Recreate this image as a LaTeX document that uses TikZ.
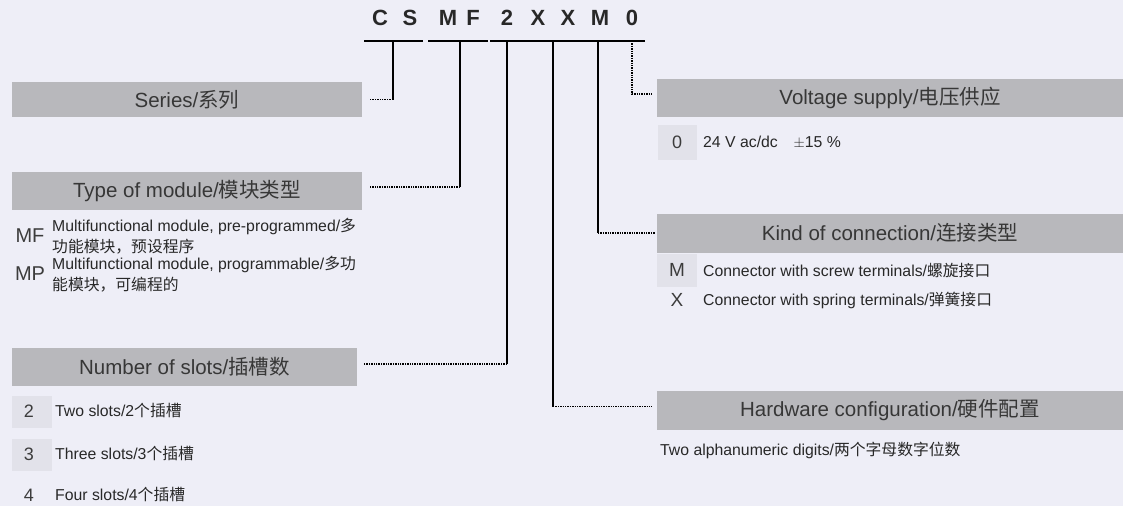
\documentclass[tikz,border=0pt]{standalone}
\usepackage{fontspec}
\setmainfont{Liberation Sans}
\newfontfamily\cjk{Noto Sans CJK SC}
\newcommand\zh[1]{{\cjk #1}}
\definecolor{bg}{RGB}{238,238,247}
\definecolor{boxgray}{RGB}{184,184,188}
\definecolor{patch}{RGB}{226,226,234}
\definecolor{titletxt}{RGB}{55,55,55}
\definecolor{itemtxt}{RGB}{40,40,40}
\definecolor{keytxt}{RGB}{60,60,60}
\definecolor{codetxt}{RGB}{40,40,40}
\tikzset{
  titlebox/.style={fill=boxgray, inner sep=0pt, text=titletxt, font=\fontsize{20.5}{24}\selectfont},
  codeletter/.style={inner sep=0pt, text=codetxt, font=\fontsize{22}{24}\selectfont\bfseries},
  keyletter/.style={inner sep=0pt, text=keytxt, font=\fontsize{18}{20}\selectfont},
  itemtext/.style={inner sep=0pt, anchor=west, text=itemtxt, align=left, font=\fontsize{15.8}{21}\selectfont},
  vline/.style={line width=1.3pt, black},
  hdot/.style={line width=1.4pt, black, densely dotted},
  uline/.style={line width=1.4pt, black},
  keypatch/.style={fill=patch, draw=none}
}
\begin{document}
\begin{tikzpicture}[x=1pt,y=-1pt]
\path[use as bounding box, fill=bg] (0,0) rectangle (1123,506);

% code letters
\node[codeletter] (k1) at (380,18) {C};
\node[codeletter] (k2) at (410,18) {S};
\node[codeletter] (k3) at (448,18) {M};
\node[codeletter] (k4) at (473,18) {F};
\node[codeletter] (k5) at (507,18) {2};
\node[codeletter] (k6) at (538,18) {X};
\node[codeletter] (k7) at (568,18) {X};
\node[codeletter] (k8) at (600,18) {M};
\node[codeletter] (k9) at (632,18) {0};
\draw[uline] (364,41) -- (423,41);
\draw[uline] (428,41) -- (488,41);
\draw[uline] (490,41) -- (645,41);

% title boxes
\node[titlebox, minimum width=350pt, minimum height=35pt] (series) at (187,99.5) {Series/\zh{系列}};
\node[titlebox, minimum width=350pt, minimum height=38pt] (type) at (187,191) {Type of module/\zh{模块类型}};
\node[titlebox, minimum width=345pt, minimum height=38pt] (slots) at (184.5,367) {Number of slots/\zh{插槽数}};
\node[titlebox, minimum width=466pt, minimum height=38pt] (volt) at (890,98) {Voltage supply/\zh{电压供应}};
\node[titlebox, minimum width=466pt, minimum height=39pt] (kind) at (890,233) {Kind of connection/\zh{连接类型}};
\node[titlebox, minimum width=466pt, minimum height=39pt] (hw) at (890,410.5) {Hardware configuration/\zh{硬件配置}};

% connector start points
\coordinate (c1) at (393,41);
\coordinate (c2) at (460,41);
\coordinate (c3) at (507,41);
\coordinate (c4) at (553,41);
\coordinate (c5) at (598,41);
\coordinate (c6) at (632,41);
% connector end points near boxes
\coordinate (e1) at ([xshift=8pt]series.east);
\coordinate (e2) at ([xshift=8pt,yshift=4pt]type.east);
\coordinate (e3) at ([xshift=7pt,yshift=3pt]slots.east);
\coordinate (e4) at ([xshift=-5pt,yshift=4pt]hw.west);
\coordinate (e5) at ([xshift=-2pt]kind.west);
\coordinate (e6) at ([xshift=-4pt,yshift=4pt]volt.west);

\draw[vline] (c1) -- (c1 |- e1); \draw[hdot] (c1 |- e1) -- (e1);
\draw[vline] (c2) -- (c2 |- e2); \draw[hdot] (c2 |- e2) -- (e2);
\draw[vline] (c3) -- (c3 |- e3); \draw[hdot] (c3 |- e3) -- (e3);
\draw[vline] (c4) -- (c4 |- e4); \draw[hdot] (c4 |- e4) -- (e4);
\draw[vline] (c5) -- (c5 |- e5); \draw[hdot] (c5 |- e5) -- (e5);
\draw[hdot, line width=1.1pt] (c6) -- (c6 |- e6) -- (e6);

% type of module items
\node[keyletter, font=\fontsize{20}{22}\selectfont] (mf) at (30,236) {MF};
\node[itemtext] (mft) at (52,236) {Multifunctional module, pre-programmed/\zh{多}\\\zh{功能模块，预设程序}};
\node[keyletter, font=\fontsize{20}{22}\selectfont] (mp) at (30,274) {MP};
\node[itemtext] (mpt) at (52,274) {Multifunctional module, programmable/\zh{多功}\\\zh{能模块，可编程的}};

% number of slots items
\path[keypatch] (12,396) rectangle (52,428);
\path[keypatch] (12,439) rectangle (52,471);
\node[keyletter] (n2) at (29,411) {2};
\node[itemtext] (n2t) at (55,411) {Two slots/2\zh{个插槽}};
\node[keyletter] (n3) at (29,454) {3};
\node[itemtext] (n3t) at (55,454) {Three slots/3\zh{个插槽}};
\node[keyletter] (n4) at (29,495) {4};
\node[itemtext] (n4t) at (55,495) {Four slots/4\zh{个插槽}};

% voltage items
\path[keypatch] (658,125) rectangle (697,160);
\node[keyletter] (v0) at (677,142) {0};
\node[itemtext] (v0t) at (703,142) {24 V ac/dc\quad$\pm$15 \%};

% kind of connection items
\path[keypatch] (657,254) rectangle (697,287);
\node[keyletter, font=\fontsize{19}{21}\selectfont] (km) at (677,270) {M};
\node[itemtext] (kmt) at (703,270) {Connector with screw terminals/\zh{螺旋接口}};
\node[keyletter, font=\fontsize{19}{21}\selectfont] (kx) at (677,300) {X};
\node[itemtext] (kxt) at (703,300) {Connector with spring terminals/\zh{弹簧接口}};

% hardware item
\node[itemtext] (hwi) at (660,450) {Two alphanumeric digits/\zh{两个字母数字位数}};
\end{tikzpicture}
\end{document}
